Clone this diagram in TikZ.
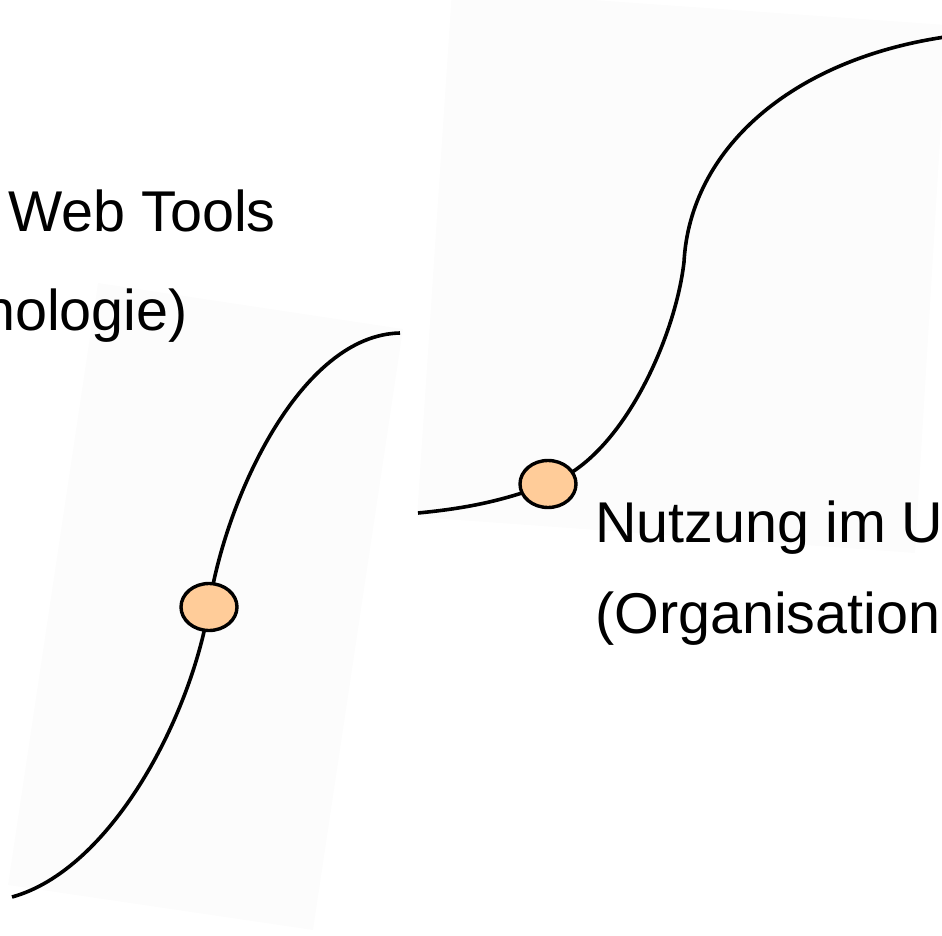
\documentclass[tikz,border=0pt]{standalone}
\usepackage{fontspec}
\setmainfont{Liberation Sans}
\usetikzlibrary{shapes.geometric}
\definecolor{peach}{RGB}{255,204,153}
\definecolor{faint}{RGB}{252,252,252}
\tikzset{
  dot/.style={ellipse, draw=black, fill=peach, line width=3.4pt,
    minimum width=56pt, minimum height=47pt, inner sep=0pt},
  curve/.style={black, line width=3.6pt},
  bigtext/.style={anchor=base west, inner sep=0pt,
    font=\fontsize{57.5}{68}\selectfont}
}
\begin{document}
\begin{tikzpicture}[x=1pt,y=-1pt]
    \useasboundingbox (0,0) rectangle (942,936);
    % faint sheets behind the curves
    \fill[faint] (98,283) -- (403,329) -- (313,930) -- (8,885) -- cycle;
    \fill[faint] (452,-10) -- (947,25) -- (915,553) -- (417,517) -- cycle;

    % left curve
    \draw[curve] (12,897) .. controls (110,870) and (190,720) .. (209,607)
      .. controls (225,500) and (300,335) .. (400,333);
    \node[dot] (techdot) at (209,607) {};

    % right curve
    \draw[curve] (418,513) .. controls (470,508) and (505,500) .. (548,484)
      .. controls (620,460) and (675,340) .. (684,262)
      .. controls (690,150) and (790,60) .. (945,37);
    \node[dot] (orgdot) at (548,484) {};

    \node[bigtext] (techtop) at (8,232) {Web Tools};
    \node[bigtext] (techbot) at (-17,330) {nologie)};
    \node[bigtext] (orgtop) at (595,542) {Nutzung im U};
    \node[bigtext] (orgbot) at (595,633) {(Organisation};
  \end{tikzpicture}
\end{document}
